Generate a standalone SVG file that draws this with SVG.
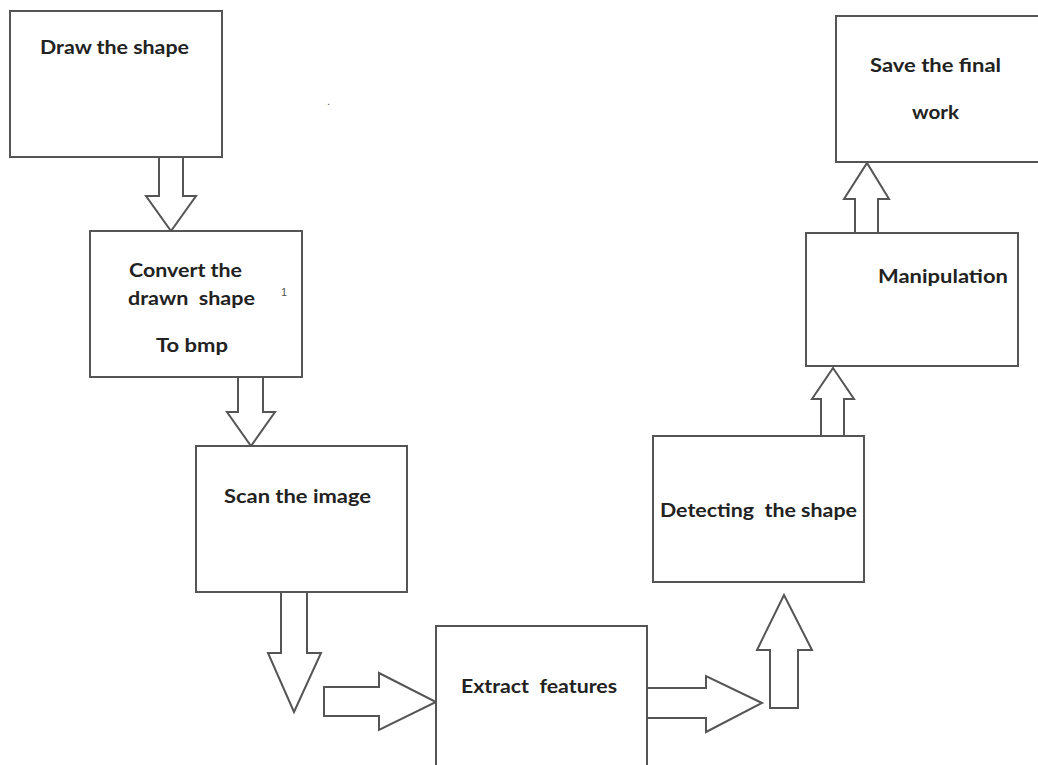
<svg xmlns="http://www.w3.org/2000/svg" width="1038" height="765" viewBox="0 0 1038 765">
<style>
.box{fill:#fff;stroke:#555;stroke-width:2}
.arr{fill:#fff;stroke:#555;stroke-width:2;stroke-linejoin:miter}
.lbl{font-family:Lato,"Open Sans","Liberation Sans",sans-serif;font-weight:bold;font-size:18px;fill:#222}
.mark{font-family:"Liberation Sans",sans-serif;font-size:11px;fill:#555}
</style>
<rect width="1038" height="765" fill="#fff"/>
<g id="connectors">
<polygon class="arr" points="159,157 183,157 183,196 196,196 171,231 146,196 159,196"/>
<polygon class="arr" points="238,377 263,377 263,412 275,412 251,446 227,412 238,412"/>
<polygon class="arr" points="281,592 307,592 307,653 321,653 294,712 268,653 281,653"/>
<polygon class="arr" points="324,687 379,687 379,673 436,702 379,730 379,716 324,716"/>
<polygon class="arr" points="647,688 706,688 706,676 762,703 706,732 706,718 647,718"/>
<polygon class="arr" points="770,708 798,708 798,650 812,650 784,595 757,650 770,650"/>
<polygon class="arr" points="821,436 844,436 844,399 854,399 833,368 812,399 821,399"/>
<polygon class="arr" points="855,233 878,233 878,199 889,199 867,163 844,199 855,199"/>
</g>
<g id="n1">
<rect class="box" x="10" y="11" width="212" height="146"/>
<text class="lbl" x="40" y="54" textLength="149" lengthAdjust="spacingAndGlyphs">Draw the shape</text>
</g>
<g id="n2">
<rect class="box" x="90" y="231" width="212" height="146"/>
<text class="lbl" x="129" y="277" textLength="113" lengthAdjust="spacingAndGlyphs">Convert the</text>
<text class="lbl" x="128" y="305" textLength="127" lengthAdjust="spacingAndGlyphs" xml:space="preserve">drawn  shape</text>
<text class="lbl" x="156" y="352" textLength="72" lengthAdjust="spacingAndGlyphs">To bmp</text>
</g>
<g id="n3">
<rect class="box" x="196" y="446" width="211" height="146"/>
<text class="lbl" x="224" y="503" textLength="147" lengthAdjust="spacingAndGlyphs">Scan the image</text>
</g>
<g id="n4">
<rect class="box" x="436" y="626" width="211" height="150"/>
<text class="lbl" x="461" y="693" textLength="156" lengthAdjust="spacingAndGlyphs" xml:space="preserve">Extract  features</text>
</g>
<g id="n5">
<rect class="box" x="653" y="436" width="211" height="146"/>
<text class="lbl" x="660" y="517" textLength="197" lengthAdjust="spacingAndGlyphs" xml:space="preserve">Detecting  the shape</text>
</g>
<g id="n6">
<rect class="box" x="806" y="233" width="212" height="133"/>
<text class="lbl" x="878" y="283" textLength="130" lengthAdjust="spacingAndGlyphs">Manipulation</text>
</g>
<g id="n7">
<rect class="box" x="836" y="16" width="215" height="146"/>
<text class="lbl" x="870" y="72" textLength="131" lengthAdjust="spacingAndGlyphs">Save the final</text>
<text class="lbl" x="912" y="119" textLength="47" lengthAdjust="spacingAndGlyphs">work</text>
</g>
<text class="mark" x="327" y="105">.</text>
<text class="mark" x="281" y="296">1</text>
</svg>
